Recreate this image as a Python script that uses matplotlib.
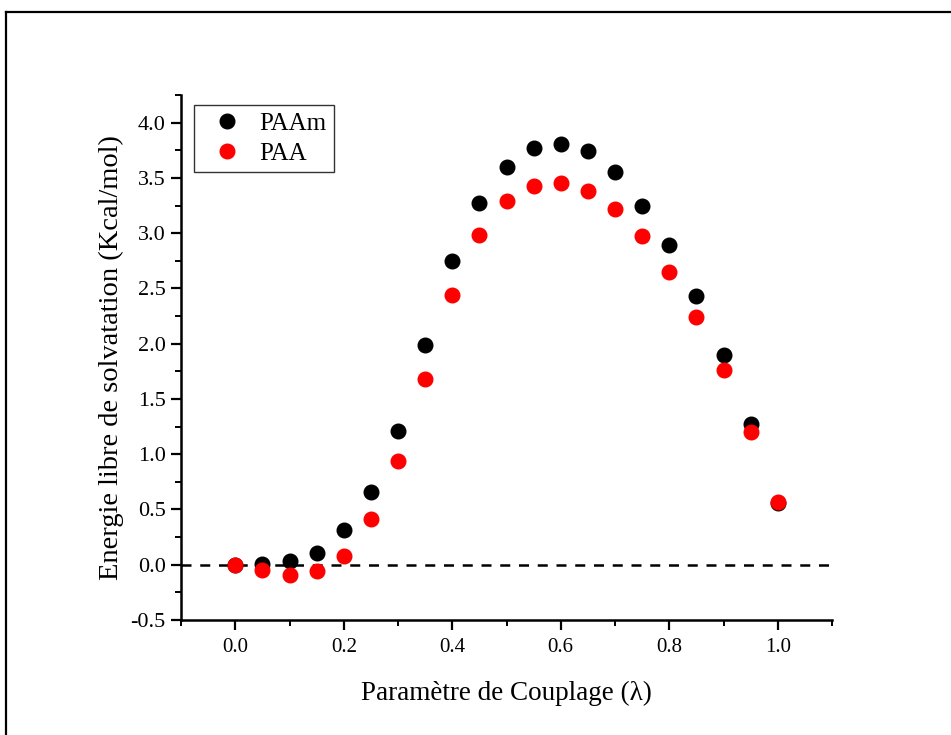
import numpy as np
import matplotlib
matplotlib.use("Agg")
from matplotlib import pyplot as plt
from matplotlib.lines import Line2D

plt.rcParams['font.family'] = ['Liberation Serif', 'DejaVu Serif']

lam = [0.0, 0.05, 0.1, 0.15, 0.2, 0.25, 0.3, 0.35, 0.4, 0.45, 0.5,
       0.55, 0.6, 0.65, 0.7, 0.75, 0.8, 0.85, 0.9, 0.95, 1.0]
paam = [0.0, 0.01, 0.03, 0.11, 0.31, 0.66, 1.21, 1.99, 2.75, 3.27, 3.60,
        3.77, 3.81, 3.74, 3.55, 3.25, 2.89, 2.43, 1.90, 1.27, 0.56]
paa = [0.0, -0.05, -0.09, -0.06, 0.08, 0.41, 0.94, 1.68, 2.44, 2.98, 3.29,
       3.43, 3.45, 3.38, 3.22, 2.97, 2.65, 2.24, 1.76, 1.20, 0.57]

fig = plt.figure(figsize=(9.51, 7.35), dpi=100)
ax = fig.add_axes([181/951, 1-620/735, 651/951, 525/735])

ax.plot(lam, paam, 'o', color='black', ms=10.5, label='PAAm', zorder=3)
ax.plot(lam, paa, 'o', color='red', ms=10.5, label='PAA', zorder=4)
ax.axhline(0, color='black', ls=(0, (4, 3.5)), lw=1.8, zorder=2)

ax.set_xlim(-0.1, 1.1)
ax.set_ylim(-0.5, 4.25)
ax.set_xticks(np.arange(0, 1.01, 0.2))
ax.set_xticks(np.arange(-0.1, 1.11, 0.1), minor=True)
ax.set_yticks(np.arange(-0.5, 4.01, 0.5))
ax.set_yticks(np.arange(-0.5, 4.26, 0.25), minor=True)
ax.set_xticklabels(['%.1f' % v for v in np.arange(0, 1.01, 0.2)])
ax.set_yticklabels(['%.1f' % v for v in np.arange(-0.5, 4.01, 0.5)])

for s in ['top', 'right']:
    ax.spines[s].set_visible(False)
for s in ['left', 'bottom']:
    ax.spines[s].set_linewidth(1.8)
ax.tick_params(which='major', direction='out', length=7, width=1.6)
ax.tick_params(which='minor', direction='out', length=4, width=1.4)
ax.tick_params(axis='x', which='major', labelsize=15, pad=6)
ax.tick_params(axis='y', which='major', labelsize=16, pad=4)

ax.set_xlabel('Paramètre de Couplage (λ)', fontsize=19.5, labelpad=17)
ax.set_ylabel('Energie libre de solvatation (Kcal/mol)', fontsize=20.5, labelpad=5)

leg = ax.legend(loc='upper left', bbox_to_anchor=(0.02, 0.981), borderaxespad=0,
                fontsize=18, frameon=True, fancybox=False, edgecolor='black',
                borderpad=0.3, handletextpad=0.3, labelspacing=0.3, handlelength=2.0,
                markerfirst=True)
leg.get_frame().set_linewidth(1.0)

# outer frame
fig.add_artist(Line2D([6/951, 6/951], [0, 1-12/735], color='black', lw=1.6, transform=fig.transFigure))
fig.add_artist(Line2D([6/951, 1], [1-12/735, 1-12/735], color='black', lw=1.6, transform=fig.transFigure))

fig.savefig('out.png', dpi=100)
